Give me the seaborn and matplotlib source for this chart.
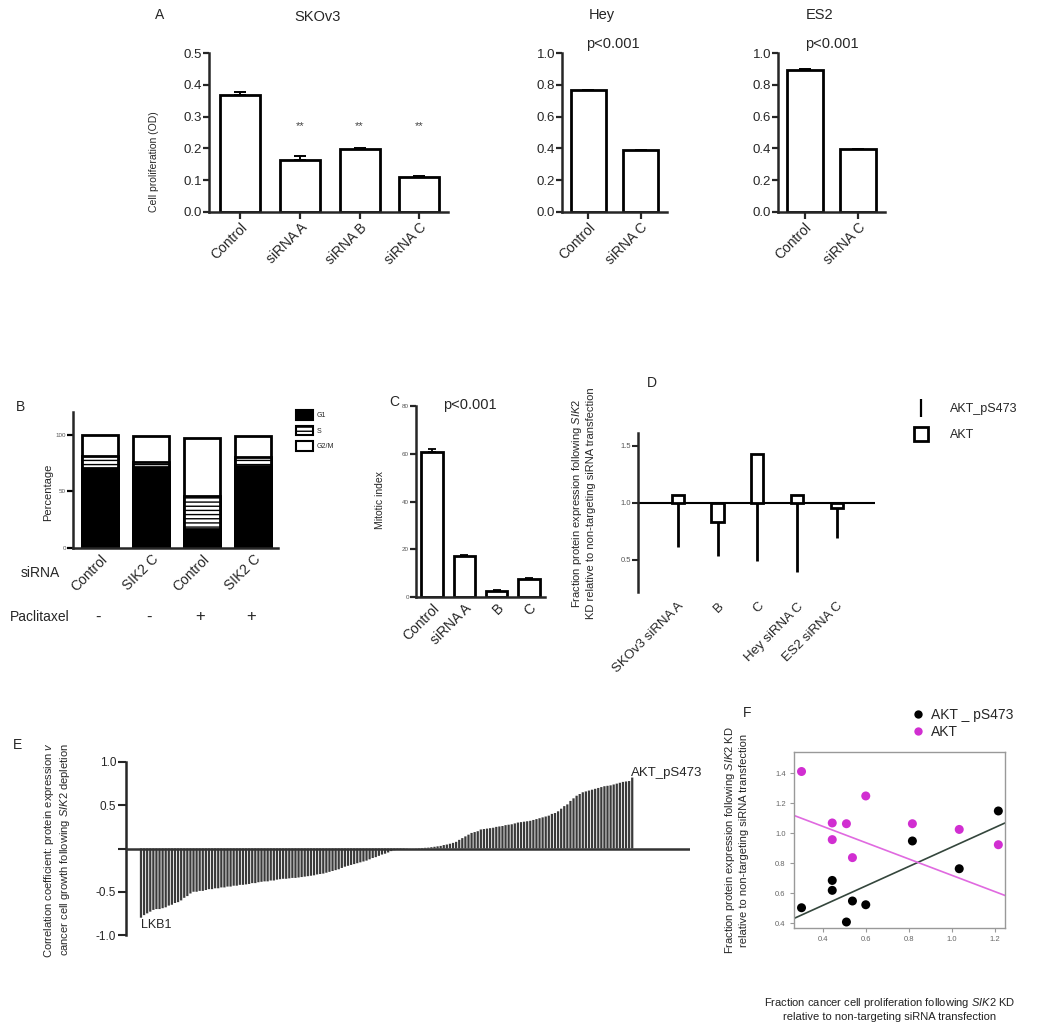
import numpy as np
import pandas as pd
import matplotlib
matplotlib.use("Agg")
import matplotlib.pyplot as plt
import seaborn as sns
from matplotlib.patches import Patch
from matplotlib.lines import Line2D

# ---------------- data ----------------
skov3_cats = ["Control", "siRNA A", "siRNA B", "siRNA C"]
skov3_vals = [0.368, 0.165, 0.199, 0.109]
skov3_err = [0.010, 0.011, 0.002, 0.003]
skov3_sig = ["", "**", "**", "**"]

hey_cats = ["Control", "siRNA C"]
hey_vals = [0.765, 0.390]
hey_err = [0.004, 0.003]

es2_cats = ["Control", "siRNA C"]
es2_vals = [0.895, 0.395]
es2_err = [0.005, 0.004]

cycle_cats = ["Control", "SIK2 C", "Control", "SIK2 C"]
paclitaxel = ["-", "-", "+", "+"]
g1 = [70.4, 71.3, 16.6, 72.5]
s_phase = [10.4, 5.0, 29.3, 7.4]
g2m = [19.2, 22.2, 51.1, 19.1]

mitotic_cats = ["Control", "siRNA A", "B", "C"]
mitotic_vals = [60.6, 17.2, 2.5, 7.7]
mitotic_err = [1.3, 0.5, 0.3, 0.2]

d_cats = ["SKOv3 siRNA A", "B", "C", "Hey siRNA C", "ES2 siRNA C"]
d_ps473 = [0.614, 0.539, 0.491, 0.395, 0.689]
d_akt = [1.069, 0.829, 1.428, 1.069, 0.955]

e_correlation = [
    -0.80, -0.77, -0.75, -0.73, -0.71, -0.70, -0.70, -0.69, -0.68, -0.66,
    -0.65, -0.63, -0.62, -0.60, -0.57, -0.55, -0.52, -0.50, -0.50, -0.49,
    -0.49, -0.48, -0.47, -0.47, -0.46, -0.46, -0.45, -0.45, -0.44, -0.44,
    -0.43, -0.43, -0.42, -0.42, -0.415, -0.41, -0.40, -0.40, -0.39, -0.385,
    -0.38, -0.38, -0.37, -0.37, -0.36, -0.355, -0.35, -0.35, -0.345, -0.34,
    -0.34, -0.335, -0.33, -0.325, -0.32, -0.315, -0.31, -0.30, -0.295, -0.29,
    -0.28, -0.27, -0.26, -0.25, -0.24, -0.225, -0.21, -0.20, -0.19, -0.18,
    -0.17, -0.16, -0.15, -0.14, -0.125, -0.11, -0.10, -0.085, -0.07, -0.06,
    -0.046, -0.03, -0.02,
    -0.012, -0.008, -0.005, -0.003, -0.001, 0.001, 0.002, 0.004, 0.006, 0.008,
    0.01, 0.015, 0.02, 0.025, 0.03, 0.04, 0.046, 0.055, 0.065, 0.077,
    0.10, 0.12, 0.14, 0.16, 0.18, 0.19, 0.20, 0.22, 0.225, 0.23,
    0.235, 0.24, 0.25, 0.255, 0.26, 0.27, 0.275, 0.28, 0.29, 0.30,
    0.305, 0.31, 0.315, 0.32, 0.33, 0.34, 0.35, 0.36, 0.37, 0.38,
    0.40, 0.41, 0.43, 0.46, 0.49, 0.51, 0.55, 0.58, 0.61, 0.63,
    0.65, 0.66, 0.67, 0.68, 0.69, 0.70, 0.71, 0.72, 0.725, 0.73,
    0.74, 0.75, 0.76, 0.77, 0.775, 0.78, 0.82,
]
e_first_label = "LKB1"
e_last_label = "AKT_pS473"

f_prolif = [0.30, 0.443, 0.443, 0.509, 0.537, 0.599, 0.816, 1.034, 1.216]
f_ps473 = [0.502, 0.684, 0.618, 0.407, 0.547, 0.522, 0.947, 0.762, 1.147]
f_akt = [1.410, 1.067, 0.956, 1.062, 0.836, 1.247, 1.062, 1.024, 0.922]
f_fit_ps473 = (0.259, 0.648)   # intercept, slope
f_fit_akt = (1.261, -0.543)
f_series = ["AKT _ pS473", "AKT"]

# ---------------- style ----------------
sns.set_style("ticks")
plt.rcParams["font.family"] = ["Liberation Sans", "DejaVu Sans"]
plt.rcParams["mathtext.fontset"] = "custom"
plt.rcParams["mathtext.rm"] = "Liberation Sans"
plt.rcParams["mathtext.it"] = "Liberation Sans:italic"
plt.rcParams["hatch.linewidth"] = 1.0
plt.rcParams["axes.linewidth"] = 1.8

W, H = 1050, 1026
fig = plt.figure(figsize=(W / 100, H / 100), dpi=100)


def px_axes(l, t, r, b):
    return fig.add_axes([l / W, 1 - b / H, (r - l) / W, (b - t) / H])


def ftext(x, y, s, **kw):
    fig.text(x / W, 1 - y / H, s, **kw)


def style_bar_axes(ax, tick_fs):
    sns.despine(ax=ax)
    ax.tick_params(axis="both", direction="out", length=4, width=1.6,
                   labelsize=tick_fs, pad=1)
    ax.set_xlabel("")
    ax.set_ylabel("")


# ---------------- Panel A ----------------
def bar_panel(ax, cats, vals, errs, ylim, yticks, ytl):
    sns.barplot(x=cats, y=vals, order=cats, color="white", edgecolor="black",
                linewidth=2.0, width=0.67, saturation=1, ax=ax)
    n = len(cats)
    ax.errorbar(range(n), vals, yerr=[np.zeros(n), errs], fmt="none",
                ecolor="black", elinewidth=1.4, capsize=4, capthick=1.4)
    ax.set_ylim(*ylim)
    ax.set_xlim(-0.5, n - 0.5)
    ax.set_yticks(yticks)
    ax.set_yticklabels(ytl)
    style_bar_axes(ax, 9.5)
    ax.tick_params(axis="x", length=5)
    for lab in ax.get_xticklabels():
        lab.set_rotation(45)
        lab.set_ha("right")
        lab.set_rotation_mode("anchor")
        lab.set_fontsize(10)


axA = px_axes(209, 53, 448, 212)
bar_panel(axA, skov3_cats, skov3_vals, skov3_err, (0, 0.5),
          [0, 0.1, 0.2, 0.3, 0.4, 0.5], ["0.0", "0.1", "0.2", "0.3", "0.4", "0.5"])
axA.set_xlim(-0.52, 3.48)
for i, s in enumerate(skov3_sig):
    if s:
        axA.text(i, 0.27, s, ha="center", va="center", fontsize=8, color="#444")

axHey = px_axes(562, 53, 667, 212)
bar_panel(axHey, hey_cats, hey_vals, hey_err, (0, 1.0),
          [0, 0.2, 0.4, 0.6, 0.8, 1.0], ["0.0", "0.2", "0.4", "0.6", "0.8", "1.0"])
axES = px_axes(778, 53, 885, 212)
bar_panel(axES, es2_cats, es2_vals, es2_err, (0, 1.0),
          [0, 0.2, 0.4, 0.6, 0.8, 1.0], ["0.0", "0.2", "0.4", "0.6", "0.8", "1.0"])

ftext(160, 15, "A", fontsize=10, ha="center", va="center")
ftext(318, 17, "SKOv3", fontsize=10.5, ha="center", va="center")
ftext(602, 15, "Hey", fontsize=10.5, ha="center", va="center")
ftext(820, 15, "ES2", fontsize=10.5, ha="center", va="center")
ftext(613, 44, "p<0.001", fontsize=10.5, ha="center", va="center")
ftext(832, 44, "p<0.001", fontsize=10.5, ha="center", va="center")
ftext(154, 162, "Cell proliferation (OD)", fontsize=7.5, rotation=90,
      ha="center", va="center")

# ---------------- Panel B ----------------
axB = px_axes(73, 412, 278, 548)
tot = [a + b + c for a, b, c in zip(g1, s_phase, g2m)]
g1s = [a + b for a, b in zip(g1, s_phase)]
xpos = list(range(len(cycle_cats)))
sns.barplot(x=xpos, y=tot, color="white", edgecolor="black", linewidth=2.0,
            width=0.69, saturation=1, ax=axB)
sns.barplot(x=xpos, y=g1s, color="white", edgecolor="black", linewidth=2.0,
            width=0.69, saturation=1, hatch="----", ax=axB)
sns.barplot(x=xpos, y=g1, color="black", edgecolor="black", linewidth=2.0,
            width=0.69, saturation=1, ax=axB)
axB.set_ylim(0, 120)
axB.set_xlim(-0.53, 3.49)
axB.set_yticks([0, 50, 100])
axB.set_yticklabels(["0", "50", "100"])
style_bar_axes(axB, 4.5)
axB.tick_params(axis="y", length=4, labelcolor="#555", color="black")
axB.set_xticks(xpos)
axB.set_xticklabels(cycle_cats, rotation=45, ha="right", rotation_mode="anchor",
                    fontsize=10)
axB.tick_params(axis="x", length=0, pad=3)
blend = matplotlib.transforms.blended_transform_factory(axB.transData, fig.transFigure)
for i, sign in enumerate(paclitaxel):
    axB.text(i - 0.03, 1 - 617 / H, sign, transform=blend,
             ha="center", va="center", fontsize=12)
ftext(20, 407, "B", fontsize=10, ha="center", va="center")
ftext(40, 573, "siRNA", fontsize=10, ha="center", va="center")
ftext(40, 617, "Paclitaxel", fontsize=10, ha="center", va="center")
ftext(48, 492, "Percentage", fontsize=8, rotation=90, ha="center", va="center")
legB = [Patch(facecolor="black", edgecolor="black", linewidth=1.5),
        Patch(facecolor="white", edgecolor="black", hatch="----", linewidth=1.5),
        Patch(facecolor="white", edgecolor="black", linewidth=1.5)]
fig.legend(legB, ["G1", "S", "G2/M"], loc="upper left",
           bbox_to_anchor=(290 / W, 1 - 404 / H), frameon=False, fontsize=5,
           handlelength=2.4, handleheight=1.8, labelspacing=0.8,
           handletextpad=0.6)

# ---------------- Panel C ----------------
axC = px_axes(416, 406, 545, 597)
sns.barplot(x=mitotic_cats, y=mitotic_vals, order=mitotic_cats, color="white",
            edgecolor="black", linewidth=2.0, width=0.66, saturation=1, ax=axC)
axC.errorbar(range(4), mitotic_vals, yerr=[np.zeros(4), mitotic_err], fmt="none",
             ecolor="black", elinewidth=1.3, capsize=3, capthick=1.3)
axC.set_ylim(0, 80)
axC.set_xlim(-0.5, 3.5)
axC.set_yticks([0, 20, 40, 60, 80])
axC.set_yticklabels(["0", "20", "40", "60", "80"])
style_bar_axes(axC, 4.5)
axC.tick_params(axis="y", labelcolor="#555")
axC.tick_params(axis="x", length=0, pad=3)
for lab in axC.get_xticklabels():
    lab.set_rotation(45)
    lab.set_ha("right")
    lab.set_rotation_mode("anchor")
    lab.set_fontsize(10)
ftext(394, 402, "C", fontsize=10, ha="center", va="center")
ftext(470, 405, "p<0.001", fontsize=10.5, ha="center", va="center")
ftext(380, 500, "Mitotic index", fontsize=7.5, rotation=90, ha="center", va="center")

# ---------------- Panel D ----------------
axD = px_axes(638, 433, 875, 592)
xd = np.arange(len(d_cats))
axD.axhline(1.0, color="black", linewidth=1.5, zorder=1)
axD.vlines(xd, 1.0, d_ps473, color="black", linewidth=2.0, zorder=2)
axD.bar(xd, np.array(d_akt) - 1.0, bottom=1.0, width=0.31, facecolor="white",
        edgecolor="black", linewidth=2.0, zorder=3)
axD.set_xlim(-1.0, 4.96)
axD.set_ylim(0.22, 1.61)
axD.set_yticks([0.5, 1.0, 1.5])
axD.set_yticklabels(["0.5", "1.0", "1.5"])
sns.despine(ax=axD, bottom=True)
axD.tick_params(axis="y", direction="out", length=4, width=1.5, labelsize=5.5,
                labelcolor="#555", pad=1)
axD.set_xticks(xd)
axD.set_xticklabels(d_cats, rotation=45, ha="right", rotation_mode="anchor",
                    fontsize=9.5)
axD.tick_params(axis="x", length=0, pad=6)
ftext(652, 383, "D", fontsize=10, ha="center", va="center")
ftext(583, 503,
      "Fraction protein expression following $\\it{SIK2}$\n"
      "KD relative to non-targeting siRNA transfection",
      fontsize=8, rotation=90, ha="center", va="center", linespacing=1.15)
legD_handles = [Line2D([0], [0], color="black", linestyle="none", marker="|",
                       markersize=13, markeredgewidth=1.6),
                Line2D([0], [0], color="black", linestyle="none", marker="s",
                       markerfacecolor="white", markersize=10,
                       markeredgewidth=2.0)]
fig.legend(legD_handles, ["AKT_pS473", "AKT"], loc="upper left",
           bbox_to_anchor=(900 / W, 1 - 392 / H), frameon=False, fontsize=9,
           handlelength=1.5, labelspacing=1.1, handletextpad=1.6)

# ---------------- Panel E ----------------
axE = px_axes(126, 762, 690, 935)
xe = np.arange(len(e_correlation))
sns.barplot(x=xe, y=e_correlation, native_scale=True, color="#3a3a3a",
            saturation=1, width=0.72, linewidth=0, ax=axE)
for p in axE.patches:
    p.set_snap(False)
axE.axhline(0, color="#333", linewidth=1.8, zorder=3)
axE.set_xlim(-4.85, 177.7)
axE.set_ylim(-1.0, 1.0)
axE.set_yticks([-1.0, -0.5, 0, 0.5, 1.0])
axE.set_yticklabels(["-1.0", "-0.5", "", "0.5", "1.0"])
sns.despine(ax=axE, bottom=True)
axE.set_xticks([])
axE.set_xlabel("")
axE.set_ylabel("")
axE.tick_params(axis="y", direction="out", length=6, width=1.5, labelsize=8.5, pad=1)
axE.text(0, -0.88, e_first_label, ha="left", va="center", fontsize=9)
axE.text(len(e_correlation) - 1.5, 0.87, e_last_label, ha="left", va="center",
         fontsize=9.5)
ftext(18, 745, "E", fontsize=10, ha="center", va="center")
ftext(57, 850,
      "Correlation coefficient: protein expression $\\it{v}$\n"
      "cancer cell growth following $\\it{SIK2}$ depletion",
      fontsize=8, rotation=90, ha="center", va="center", linespacing=1.15)

# ---------------- Panel F ----------------
axF = px_axes(794, 752, 1005, 928)
dfF = pd.DataFrame({
    "prolif": f_prolif + f_prolif,
    "expr": f_ps473 + f_akt,
    "protein": [f_series[0]] * len(f_prolif) + [f_series[1]] * len(f_prolif),
})
palF = {f_series[0]: "black", f_series[1]: "#d12ed1"}
sns.scatterplot(data=dfF, x="prolif", y="expr", hue="protein", palette=palF,
                s=42, edgecolor="none", ax=axF, legend=False, zorder=3)
axF.axline((0, f_fit_ps473[0]), slope=f_fit_ps473[1], color="#34463c",
           linewidth=1.2, zorder=2)
axF.axline((0, f_fit_akt[0]), slope=f_fit_akt[1], color="#e06ae0",
           linewidth=1.2, zorder=2)
axF.set_xlim(0.265, 1.247)
axF.set_ylim(0.367, 1.54)
axF.set_xticks([0.4, 0.6, 0.8, 1.0, 1.2])
axF.set_xticklabels(["0.4", "0.6", "0.8", "1.0", "1.2"])
axF.set_yticks([0.4, 0.6, 0.8, 1.0, 1.2, 1.4])
axF.set_yticklabels(["0.4", "0.6", "0.8", "1.0", "1.2", "1.4"])
for sp in axF.spines.values():
    sp.set_color("#999")
    sp.set_linewidth(1.0)
axF.tick_params(axis="both", direction="out", length=3, width=0.8,
                color="#999", labelcolor="#666", labelsize=5.5, pad=3)
axF.set_xlabel("")
axF.set_ylabel("")
ftext(747, 713, "F", fontsize=10, ha="center", va="center")
ftext(736, 840,
      "Fraction protein expression following $\\it{SIK2}$ KD\n"
      "relative to non-targeting siRNA transfection",
      fontsize=8, rotation=90, ha="center", va="center", linespacing=1.15)
ftext(890, 1009,
      "Fraction cancer cell proliferation following $\\it{SIK2}$ KD\n"
      "relative to non-targeting siRNA transfection",
      fontsize=8, ha="center", va="center", linespacing=1.15, color="#222")
legF = [Line2D([0], [0], linestyle="none", marker="o", markersize=6,
               markerfacecolor=palF[k], markeredgecolor="none") for k in f_series]
fig.legend(legF, f_series, loc="upper left",
           bbox_to_anchor=(905 / W, 1 - 702 / H), frameon=False, fontsize=10,
           handlelength=1.0, labelspacing=0.25, handletextpad=0.5,
           borderaxespad=0)

fig.savefig("out.png", dpi=100, facecolor="white")
